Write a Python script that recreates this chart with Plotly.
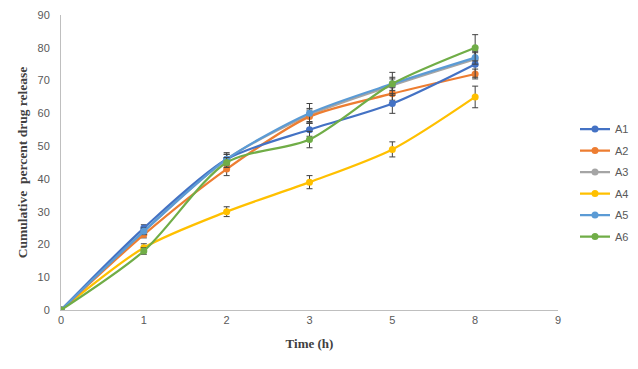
import plotly.graph_objects as go

time_labels = ["0", "1", "2", "3", "5", "8"]
axis_categories = ["0", "1", "2", "3", "5", "8", "9"]

series_names = ["A1", "A2", "A3", "A4", "A5", "A6"]
a1 = [0, 25, 46, 55, 63, 75]
a2 = [0, 23, 43, 59, 66, 72]
a3 = [0, 24, 46, 59.5, 68.5, 76.5]
a4 = [0, 19, 30, 39, 49, 65]
a5 = [0, 24, 46, 60, 69, 77]
a6 = [0, 18, 45, 52, 69, 80]

a1_err = [0, 1, 1.5, 2, 3, 4]
a2_err = [0, 1, 2, 2, 2, 1.5]
a3_err = [0, 1, 1.5, 2, 2, 2]
a4_err = [0, 1.2, 1.5, 2, 2.3, 3.3]
a5_err = [0, 1, 2, 3, 2, 2]
a6_err = [0, 1, 1.5, 2.5, 3.5, 4]

colors = ["#4472C4", "#ED7D31", "#A5A5A5", "#FFC000", "#5B9BD5", "#70AD47"]
values = [a1, a2, a3, a4, a5, a6]
errors = [a1_err, a2_err, a3_err, a4_err, a5_err, a6_err]

fig = go.Figure()
order = [2, 3, 1, 0, 4, 5]
for i in order:
    fig.add_trace(go.Scatter(
        x=time_labels, y=values[i], name=series_names[i],
        legendgroup=series_names[i], legendrank=i + 1,
        mode="lines+markers",
        line=dict(color=colors[i], width=2.25, shape="spline", smoothing=0.8),
        marker=dict(color=colors[i], size=7, symbol="circle"),
        error_y=dict(type="data", array=errors[i], visible=True,
                     color="#404040", thickness=1, width=3),
    ))

axis_font = dict(family="Liberation Sans, Arial, sans-serif", size=11, color="#595959")
xtitle_font = dict(family="Liberation Serif, Times New Roman, serif", size=13, color="#404040")
ytitle_font = dict(family="Liberation Serif, Times New Roman, serif", size=13.5, color="#404040")

fig.update_layout(
    width=630, height=361,
    margin=dict(l=53, r=80, t=7, b=59),
    paper_bgcolor="white", plot_bgcolor="white",
    showlegend=True,
    legend=dict(
        xref="container", yref="container",
        x=0.9, y=0.515, xanchor="left", yanchor="middle",
        traceorder="grouped", tracegroupgap=2.5,
        font=dict(family="Liberation Sans, Arial, sans-serif", size=11, color="#595959"),
        itemwidth=30,
    ),
    xaxis=dict(
        type="category", categoryorder="array", categoryarray=axis_categories,
        range=[0, 6], showgrid=False, zeroline=False, automargin=False,
        showline=True, linecolor="#BFBFBF", linewidth=1,
        ticks="", tickfont=axis_font,
        title=dict(text="<b>Time (h)</b>", font=xtitle_font, standoff=13),
    ),
    yaxis=dict(
        range=[0, 90], dtick=10, showgrid=False, zeroline=False, automargin=False,
        showline=True, linecolor="#BFBFBF", linewidth=1,
        ticks="", tickfont=axis_font, ticklabelstandoff=8,
        title=dict(text="<b>Cumulative  percent drug release</b>", font=ytitle_font, standoff=6),
    ),
)

fig.write_html("out.html")
